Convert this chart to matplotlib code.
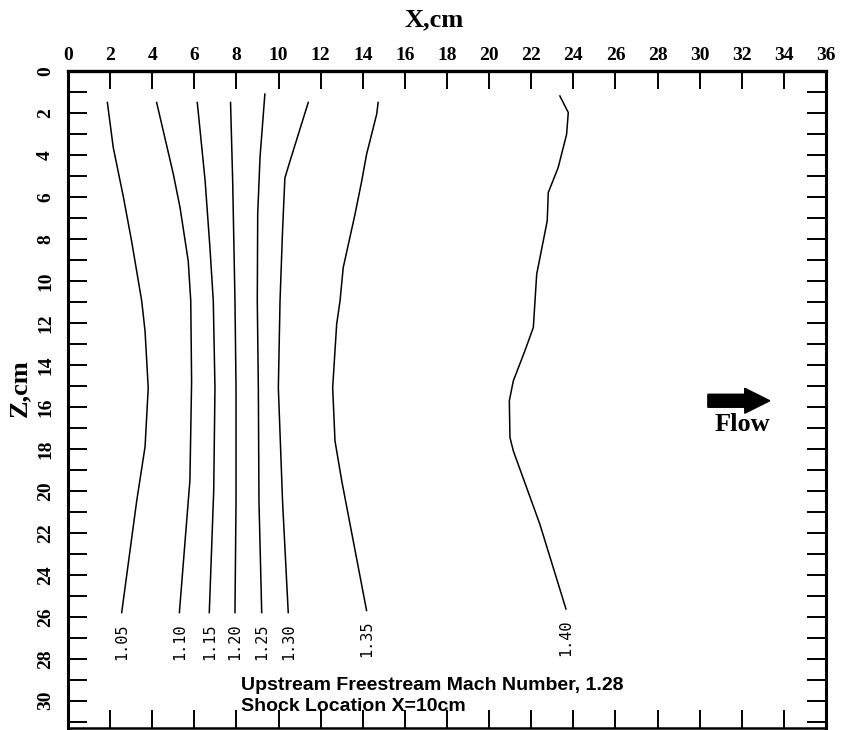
import numpy as np
import matplotlib.pyplot as plt
from matplotlib.patches import FancyArrow

# Mach number isolines, x and z in cm, top end first
levels = ['1.05', '1.10', '1.15', '1.20', '1.25', '1.30', '1.35', '1.40']

m105_x = [1.87, 2.15, 2.63, 3.02, 3.50, 3.66, 3.81, 3.66, 3.26, 2.55]
m105_z = [1.50, 3.65, 6.00, 8.10, 10.95, 12.40, 15.10, 17.90, 20.50, 25.80]

m110_x = [4.21, 5.00, 5.32, 5.71, 5.83, 5.87, 5.79, 5.29]
m110_z = [1.50, 4.90, 6.50, 9.05, 10.95, 14.80, 19.50, 25.80]

m115_x = [6.14, 6.51, 6.74, 6.90, 6.98, 6.92, 6.71]
m115_z = [1.50, 5.20, 8.40, 10.95, 15.10, 20.00, 25.80]

m120_x = [7.72, 7.82, 7.93, 7.98, 7.98, 7.93]
m120_z = [1.50, 5.20, 10.95, 15.10, 20.50, 25.80]

m125_x = [9.35, 9.12, 9.01, 8.99, 9.04, 9.07, 9.20]
m125_z = [1.10, 4.10, 6.80, 10.95, 15.10, 20.50, 25.80]

m130_x = [11.41, 10.54, 10.30, 10.19, 10.07, 9.99, 10.19, 10.46]
m130_z = [1.50, 4.30, 5.10, 7.60, 10.95, 15.10, 20.50, 25.80]

m135_x = [14.73, 14.66, 14.18, 13.95, 13.63, 13.07, 12.92, 12.76, 12.57, 12.68, 13.00, 14.18]
m135_z = [1.50, 2.06, 3.97, 5.24, 6.83, 9.37, 10.95, 12.06, 15.08, 17.62, 19.52, 25.70]

m140_x = [23.36, 23.76, 23.68, 23.28, 22.81, 22.76, 22.26, 22.10, 21.70, 21.15,
          20.96, 20.99, 21.15, 22.41, 23.65]
m140_z = [1.19, 1.98, 3.02, 4.60, 5.79, 7.14, 9.68, 12.22, 13.33, 14.76,
          15.71, 17.46, 18.10, 21.59, 25.63]

lines_x = [m105_x, m110_x, m115_x, m120_x, m125_x, m130_x, m135_x, m140_x]
lines_z = [m105_z, m110_z, m115_z, m120_z, m125_z, m130_z, m135_z, m140_z]

x_ticks = np.arange(0, 37, 2)
z_ticks = np.arange(0, 31, 2)
z_minor = np.arange(1, 32, 2)

serif = 'Liberation Serif'

fig = plt.figure(figsize=(8.44, 7.30), dpi=100, facecolor='w')
ax = fig.add_axes([68 / 844, 2 / 730, 758 / 844, 657 / 730])

for lev, xs, zs in zip(levels, lines_x, lines_z):
    ax.plot(xs, zs, 'k-', linewidth=1.1)
    ax.text(xs[-1], zs[-1] + 0.5, lev, rotation=90, ha='center', va='top',
            family='DejaVu Sans Mono', fontsize=11)

ax.set_xlim(0, 36)
ax.set_ylim(31.3, 0)

# axis ticks: x labels on top, z labels rotated on the left
ax.set_xticks(x_ticks)
ax.set_xticklabels([str(v) for v in x_ticks], family=serif, weight='bold', fontsize=14)
ax.set_yticks(z_ticks)
ax.set_yticks(z_minor, minor=True)
ax.set_yticklabels([str(v) for v in z_ticks], family=serif, weight='bold', fontsize=14,
                   rotation=90, va='center')
ax.tick_params(axis='x', which='both', direction='in', top=True, bottom=True,
               labeltop=True, labelbottom=False, length=13, width=1.4, pad=5)
ax.tick_params(axis='y', which='both', direction='in', left=True, right=True,
               length=14, width=1.4, pad=10)
for side, lw in [('top', 2.4), ('left', 2.2), ('right', 2.2), ('bottom', 1.8)]:
    ax.spines[side].set_linewidth(lw)

fig.text(434 / 844, 1 - 20 / 730, 'X,cm', family=serif, weight='bold', fontsize=19,
         ha='center', va='center')
fig.text(20 / 844, 1 - 388 / 730, 'Z,cm', family=serif, weight='bold', fontsize=19,
         ha='center', va='center', rotation=90)

# flow direction marker
ax.add_patch(FancyArrow(30.39, 15.71, 2.94, 0, width=0.62, head_width=1.19,
                        head_length=1.19, length_includes_head=True, color='k'))
ax.text(32.05, 16.85, 'Flow', family=serif, weight='bold', fontsize=19,
        ha='center', va='center')

ax.text(8.2, 29.48, 'Upstream Freestream Mach Number, 1.28', family='Liberation Sans',
        weight='bold', fontsize=14, ha='left', va='baseline')
ax.text(8.2, 30.48, 'Shock Location X=10cm', family='Liberation Sans',
        weight='bold', fontsize=14, ha='left', va='baseline')

plt.savefig('out.png', dpi=100)
plt.close()
